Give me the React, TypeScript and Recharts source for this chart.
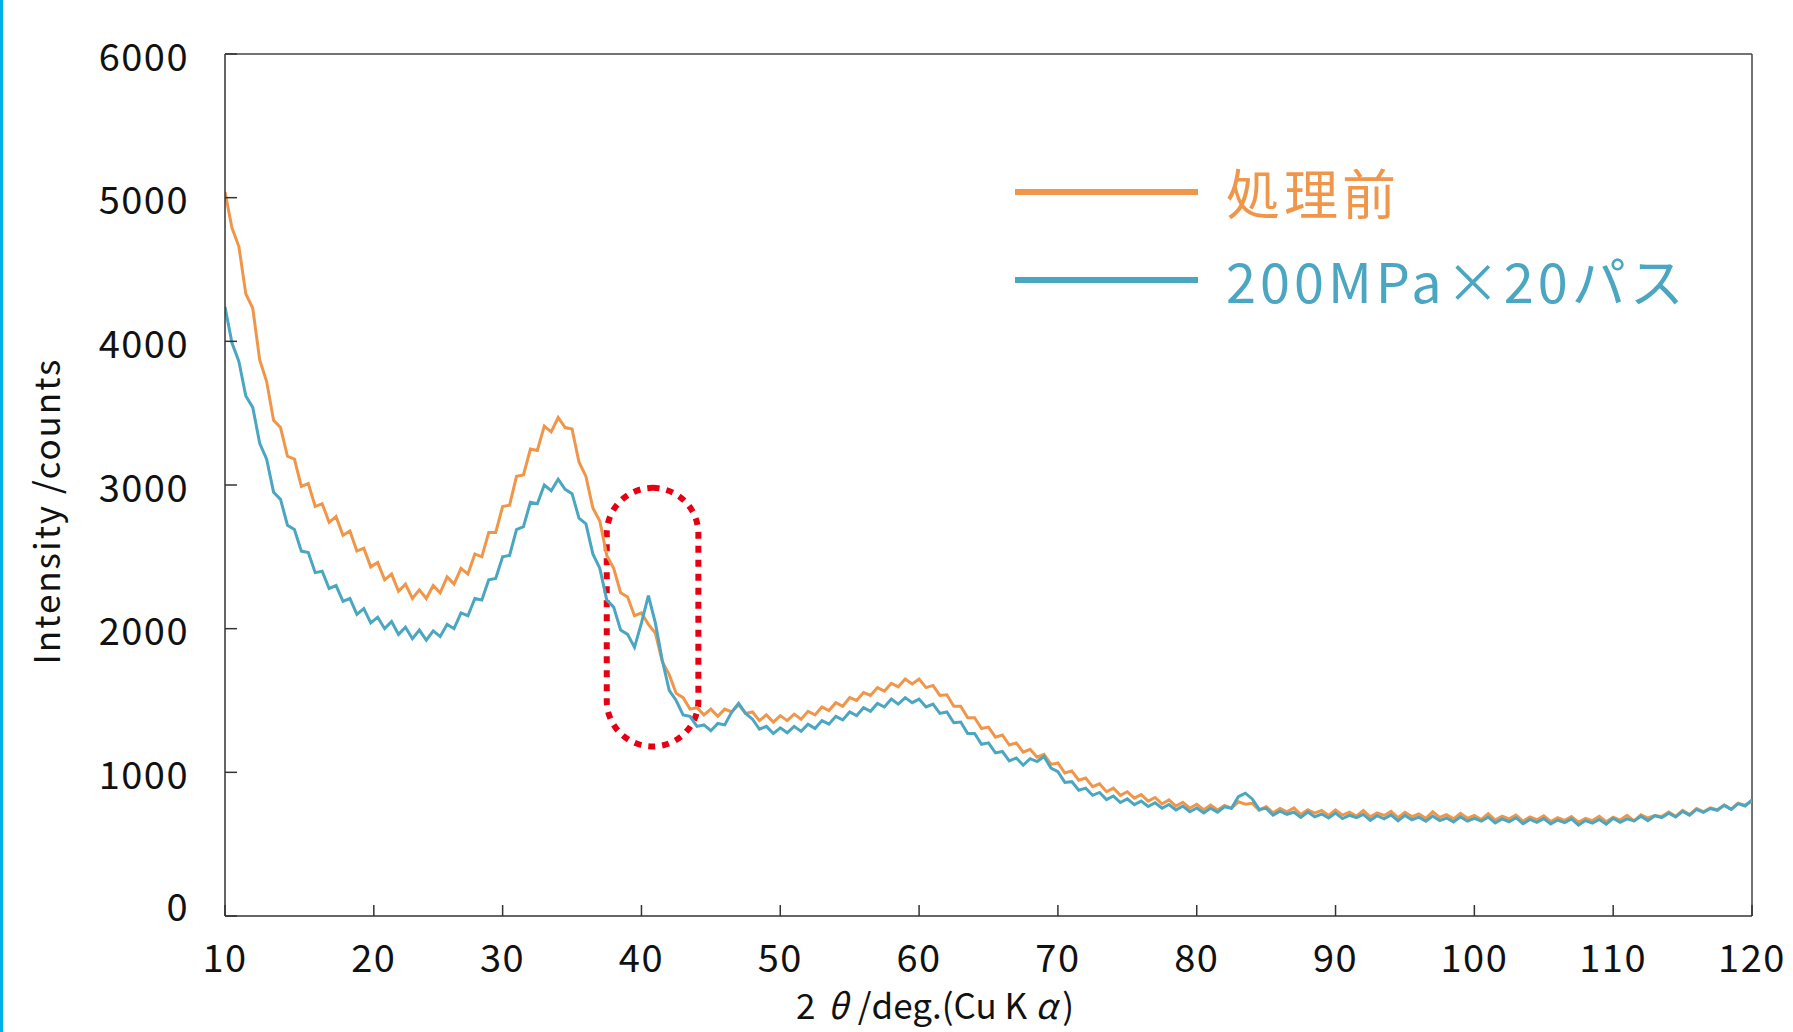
import { LineChart, Line, XAxis, YAxis, Legend, ReferenceLine, ReferenceArea } from "recharts";

// 2θ grid (deg), 0.5° steps
const angles = [
  10, 10.5, 11, 11.5, 12, 12.5, 13, 13.5, 14, 14.5,
  15, 15.5, 16, 16.5, 17, 17.5, 18, 18.5, 19, 19.5,
  20, 20.5, 21, 21.5, 22, 22.5, 23, 23.5, 24, 24.5,
  25, 25.5, 26, 26.5, 27, 27.5, 28, 28.5, 29, 29.5,
  30, 30.5, 31, 31.5, 32, 32.5, 33, 33.5, 34, 34.5,
  35, 35.5, 36, 36.5, 37, 37.5, 38, 38.5, 39, 39.5,
  40, 40.5, 41, 41.5, 42, 42.5, 43, 43.5, 44, 44.5,
  45, 45.5, 46, 46.5, 47, 47.5, 48, 48.5, 49, 49.5,
  50, 50.5, 51, 51.5, 52, 52.5, 53, 53.5, 54, 54.5,
  55, 55.5, 56, 56.5, 57, 57.5, 58, 58.5, 59, 59.5,
  60, 60.5, 61, 61.5, 62, 62.5, 63, 63.5, 64, 64.5,
  65, 65.5, 66, 66.5, 67, 67.5, 68, 68.5, 69, 69.5,
  70, 70.5, 71, 71.5, 72, 72.5, 73, 73.5, 74, 74.5,
  75, 75.5, 76, 76.5, 77, 77.5, 78, 78.5, 79, 79.5,
  80, 80.5, 81, 81.5, 82, 82.5, 83, 83.5, 84, 84.5,
  85, 85.5, 86, 86.5, 87, 87.5, 88, 88.5, 89, 89.5,
  90, 90.5, 91, 91.5, 92, 92.5, 93, 93.5, 94, 94.5,
  95, 95.5, 96, 96.5, 97, 97.5, 98, 98.5, 99, 99.5,
  100, 100.5, 101, 101.5, 102, 102.5, 103, 103.5, 104, 104.5,
  105, 105.5, 106, 106.5, 107, 107.5, 108, 108.5, 109, 109.5,
  110, 110.5, 111, 111.5, 112, 112.5, 113, 113.5, 114, 114.5,
  115, 115.5, 116, 116.5, 117, 117.5, 118, 118.5, 119, 119.5,
  120,
];

// 処理前
const untreated = [
  5040, 4790, 4660, 4330, 4230, 3870, 3720, 3450, 3400, 3200,
  3180, 2990, 3010, 2850, 2870, 2740, 2780, 2650, 2680, 2540,
  2560, 2430, 2460, 2340, 2380, 2260, 2310, 2210, 2270, 2210,
  2300, 2250, 2360, 2310, 2420, 2380, 2520, 2500, 2670, 2670,
  2850, 2860, 3060, 3070, 3250, 3240, 3410, 3370, 3470, 3400,
  3390, 3160, 3060, 2840, 2750, 2510, 2420, 2250, 2220, 2090,
  2110, 2030, 1970, 1770, 1680, 1550, 1520, 1440, 1450, 1400,
  1440, 1390, 1440, 1420, 1470, 1410, 1420, 1360, 1400, 1350,
  1395, 1360, 1405, 1370, 1425, 1400, 1455, 1430, 1485, 1460,
  1520, 1500, 1555, 1535, 1590, 1565, 1620, 1595, 1650, 1615,
  1650, 1590, 1605, 1535, 1540, 1460, 1460, 1380, 1380, 1305,
  1315, 1245, 1260, 1190, 1205, 1140, 1160, 1105, 1125, 1055,
  1065, 995, 1010, 945, 960, 900, 920, 865, 890, 840,
  865, 820, 845, 800, 825, 780, 808, 765, 792, 750,
  778, 740, 772, 738, 770, 750, 795, 778, 785, 735,
  762, 718, 748, 725, 752, 706, 740, 716, 735, 700,
  738, 702, 722, 695, 735, 690, 718, 700, 728, 684,
  722, 692, 710, 680, 725, 686, 705, 676, 715, 680,
  700, 672, 712, 668, 695, 676, 702, 660, 690, 670,
  698, 658, 684, 666, 692, 652, 680, 664, 694, 656,
  688, 668, 700, 662, 705, 682, 700, 692, 724, 694,
  735, 706, 748, 726, 752, 740, 772, 744, 786, 770,
  800,
];

// 200MPa×20パス
const treated = [
  4240, 3990, 3860, 3620, 3540, 3290, 3180, 2950, 2900, 2720,
  2690, 2540, 2530, 2390, 2400, 2280, 2300, 2190, 2210, 2100,
  2140, 2040, 2080, 2000, 2050, 1960, 2010, 1930, 1990, 1920,
  1985, 1945, 2030, 2000, 2110, 2090, 2210, 2200, 2340, 2350,
  2500, 2510, 2690, 2710, 2880, 2870, 3000, 2960, 3040, 2970,
  2940, 2770, 2730, 2520, 2420, 2200, 2150, 1990, 1960, 1870,
  2040, 2230, 2040, 1780, 1570, 1500, 1400, 1390, 1320, 1330,
  1290, 1340, 1330, 1420, 1480, 1410, 1370, 1300, 1320, 1270,
  1310, 1275, 1320, 1285, 1335, 1305, 1360, 1335, 1390, 1365,
  1420, 1395, 1450, 1425, 1480, 1455, 1510, 1475, 1520, 1485,
  1510, 1455, 1475, 1410, 1420, 1345, 1350, 1270, 1270, 1195,
  1205, 1135, 1145, 1080, 1100, 1050, 1095, 1075, 1110, 1030,
  1005, 930, 935, 875, 890, 840, 860, 810, 835, 790,
  815, 775, 800, 762, 788, 750, 776, 738, 765, 726,
  752, 718, 750, 722, 760, 750, 830, 855, 815, 742,
  750, 702, 730, 708, 722, 686, 724, 690, 710, 682,
  716, 678, 700, 684, 708, 666, 698, 676, 704, 662,
  700, 670, 688, 660, 696, 664, 682, 654, 690, 660,
  680, 660, 688, 648, 676, 656, 684, 642, 672, 652,
  678, 640, 668, 650, 676, 632, 664, 646, 672, 640,
  680, 652, 676, 662, 694, 664, 698, 684, 716, 690,
  728, 702, 742, 722, 748, 736, 770, 742, 782, 766,
  808,
];

const seriesNames = ["処理前", "200MPa×20パス"];
const xTicks = [10, 20, 30, 40, 50, 60, 70, 80, 90, 100, 110, 120];
const yTicks = [0, 1000, 2000, 3000, 4000, 5000, 6000];
// highlighted region (dotted outline): 2θ range and intensity range
const highlightX = [37.5, 44.1];
const highlightY = [1180, 2980];

const data = angles.map((x, i) => ({ x, untreated: untreated[i], treated: treated[i] }));

const FONT = "'Noto Sans CJK JP', sans-serif";
const ORANGE = "#F0964A";
const BLUE = "#4BA6C2";
const AXIS = "#333";

const W = 1793;
const H = 1032;
const PLOT_LEFT = 225;
const PLOT_BOTTOM = 916;

const XTick = (props: any) => {
  const { x, payload } = props;
  // the original puts the "20" tick a little right of its place
  const cx = payload.value === 20 ? x + 10 : x;
  return (
    <g>
      <line x1={cx} x2={cx} y1={PLOT_BOTTOM} y2={PLOT_BOTTOM - 11} stroke={AXIS} strokeWidth={1.5} />
      <text x={cx} y={972} textAnchor="middle" fontFamily={FONT} fontSize={38} letterSpacing={1.5} fill="#111">
        {payload.value}
      </text>
    </g>
  );
};

const YTick = (props: any) => {
  const { y, payload } = props;
  const ty = payload.value === 0 ? y - 12 : y;
  return (
    <g>
      <line x1={PLOT_LEFT} x2={PLOT_LEFT + 12} y1={y} y2={y} stroke={AXIS} strokeWidth={1.5} />
      <text x={189} y={ty} textAnchor="end" dominantBaseline="central" fontFamily={FONT} fontSize={38} letterSpacing={1.5} fill="#111">
        {payload.value}
      </text>
    </g>
  );
};

const XTitle = () => (
  <text x={935} y={1019} textAnchor="middle" fontFamily={FONT} fontSize={35} fill="#111">
    2<tspan dx={12} fontStyle="italic">θ</tspan>
    <tspan dx={10}>/deg.(Cu K</tspan>
    <tspan dx={8} fontStyle="italic">α</tspan>
    <tspan dx={5}>)</tspan>
  </text>
);

const YTitle = () => (
  <text
    x={44}
    y={511}
    transform="rotate(-90, 44, 511)"
    textAnchor="middle"
    dominantBaseline="central"
    fontFamily={FONT}
    fontSize={35}
    letterSpacing={2}
    fill="#111"
  >
    Intensity /counts
  </text>
);

const Stadium = (props: any) => {
  const { x, y, width, height } = props;
  return (
    <rect
      x={x}
      y={y}
      width={width}
      height={height}
      rx={width / 2}
      ry={width / 2}
      fill="none"
      stroke="#E60012"
      strokeWidth={6}
      strokeDasharray="7 7"
    />
  );
};

const LegendBox = (props: any) => {
  const items = [...(props.payload || [])].sort(
    (a: any, b: any) => seriesNames.indexOf(a.value) - seriesNames.indexOf(b.value)
  );
  return (
    <div style={{ fontFamily: FONT }}>
      {items.map((entry: any) => (
        <div key={entry.value} style={{ display: "flex", alignItems: "center", height: 88 }}>
          <div style={{ width: 183, height: 6, background: entry.color }} />
          <span style={{ marginLeft: 28, fontSize: 54, lineHeight: 1, letterSpacing: 4, color: entry.color }}>
            {entry.value}
          </span>
        </div>
      ))}
    </div>
  );
};

export default function App() {
  return (
    <div style={{ position: "absolute", left: 0, top: 0, width: W, height: H, background: "#fff", overflow: "hidden" }}>
      <div style={{ position: "absolute", left: 0, top: 0, width: 3, height: H, background: "#00B0E6" }} />
      <LineChart width={W} height={H} data={data} margin={{ top: 54, right: 41, left: 145, bottom: 76 }}>
        <XAxis
          dataKey="x"
          type="number"
          domain={[10, 120]}
          ticks={xTicks}
          allowDataOverflow
          height={40}
          axisLine={{ stroke: AXIS, strokeWidth: 1.5 }}
          tickLine={false}
          tick={<XTick />}
          label={<XTitle />}
        />
        <YAxis
          type="number"
          domain={[0, 6000]}
          ticks={yTicks}
          allowDataOverflow
          width={80}
          axisLine={{ stroke: AXIS, strokeWidth: 1.5 }}
          tickLine={false}
          tick={<YTick />}
          label={<YTitle />}
        />
        <ReferenceLine y={6000} stroke="#444" strokeWidth={1.5} />
        <ReferenceLine x={120} stroke="#444" strokeWidth={1.5} />
        <Line
          type="linear"
          dataKey="untreated"
          name={seriesNames[0]}
          stroke={ORANGE}
          strokeWidth={3}
          dot={false}
          isAnimationActive={false}
        />
        <Line
          type="linear"
          dataKey="treated"
          name={seriesNames[1]}
          stroke={BLUE}
          strokeWidth={3}
          dot={false}
          isAnimationActive={false}
        />
        <ReferenceArea
          x1={highlightX[0]}
          x2={highlightX[1]}
          y1={highlightY[0]}
          y2={highlightY[1]}
          shape={<Stadium />}
        />
        <Legend
          layout="vertical"
          align="center"
          verticalAlign="middle"
          itemSorter={null as any}
          content={<LegendBox />}
          wrapperStyle={{ left: 1015, top: 148, width: 770, height: 176 }}
        />
      </LineChart>
    </div>
  );
}
